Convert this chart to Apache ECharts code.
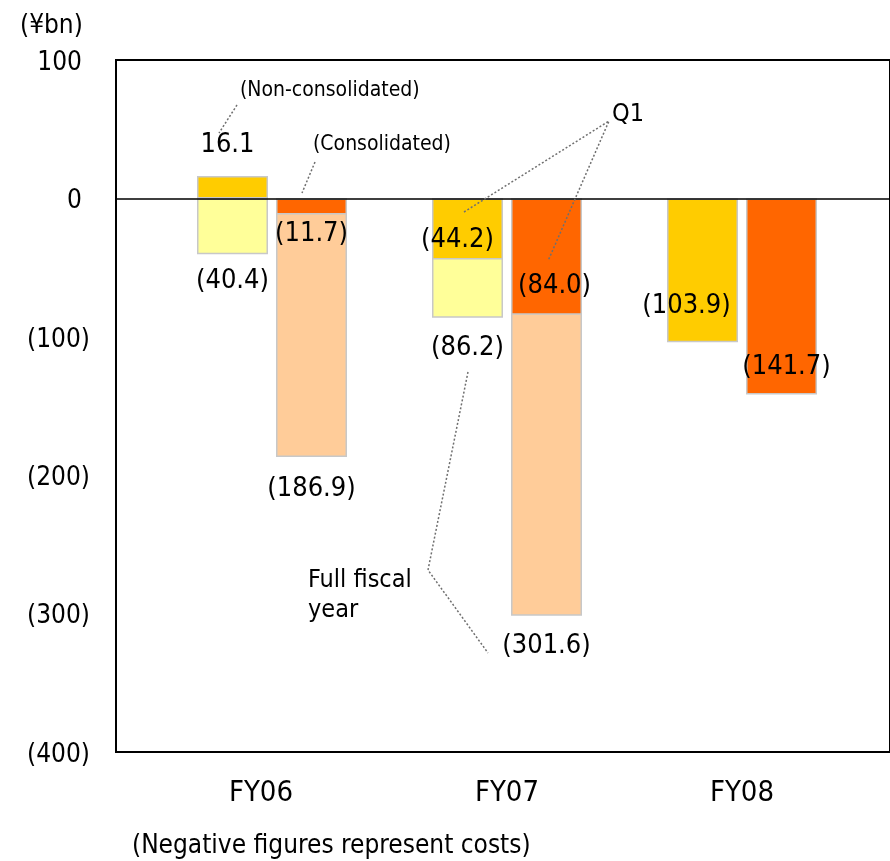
<!DOCTYPE html>
<html>
<head>
<meta charset="utf-8">
<script src="https://cdn.jsdelivr.net/npm/echarts@6/dist/echarts.min.js"></script>
<style>
  html, body { margin: 0; padding: 0; background: #fff; }
  #chart { width: 890px; height: 861px; }
</style>
</head>
<body>
<div id="chart"></div>
<script>
// Fiscal years on the category axis
const categories = ['FY06', 'FY07', 'FY08'];

// Costs in ¥bn (negative = cost); null where no full-year figure exists
const nonConsolQ1   = [16.1, -44.2, -103.9];
const nonConsolFull = [-40.4, -86.2, null];
const consolQ1      = [-11.7, -84.0, -141.7];
const consolFull    = [-186.9, -301.6, null];

// Value axis range and tick step
const yMin = -400;
const yMax = 100;
const yStep = 100;

// Label nudges [dx, dy] relative to the end of each bar
const nonConsolQ1Shift   = [[-5, -18], [-10, -33], [-16, -50]];
const nonConsolFullShift = [[0, 13], [0, 17], null];
const consolQ1Shift      = [[0, 6], [8, -42], [5, -41]];
const consolFullShift    = [[0, 18], [0, 17], null];

const FONT = '"DejaVu Sans Condensed", "DejaVu Sans", sans-serif';
const BORDER = '#c8c8c8';

function fmt(v) {
  return v < 0 ? '(' + (-v).toFixed(1) + ')' : v.toFixed(1);
}

function buildData(values, shifts) {
  return values.map(function (v, i) {
    if (v === null) return '-';
    return {
      value: v,
      label: { position: v < 0 ? 'bottom' : 'top', offset: shifts[i] || [0, 0] }
    };
  });
}

const labelStyle = {
  show: true,
  distance: 0,
  fontFamily: FONT,
  fontSize: 27,
  color: '#000',
  formatter: function (p) { return fmt(p.value); }
};

function barSeries(name, values, shifts, color, xIdx) {
  return {
    name: name,
    type: 'bar',
    xAxisIndex: xIdx,
    yAxisIndex: 1,
    barWidth: 71,
    barGap: '11.3%',
    data: buildData(values, shifts),
    itemStyle: { color: color, borderColor: BORDER, borderWidth: 1.5 },
    label: labelStyle,
    emphasis: { disabled: true },
    animation: false
  };
}

const chart = echarts.init(document.getElementById('chart'), null, { renderer: 'canvas' });

const dotted = { stroke: '#6f6f6f', lineWidth: 1.5, lineDash: [2, 2] };

chart.setOption({
  animation: false,
  backgroundColor: '#fff',
  textStyle: { fontFamily: FONT },
  title: [
    {
      text: '(¥bn)', left: 20, top: 13, padding: 0,
      textStyle: { fontFamily: FONT, fontSize: 26, fontWeight: 'normal', color: '#000' }
    },
    {
      text: '(Negative figures represent costs)', left: 132, top: 833, padding: 0,
      textStyle: { fontFamily: FONT, fontSize: 26, fontWeight: 'normal', color: '#000' }
    }
  ],
  grid: [
    // frame with the value axis
    { left: 116, right: -5, top: 60, bottom: 109, show: true, borderColor: '#000', borderWidth: 2, backgroundColor: 'transparent' },
    // plotting area for the bars
    { left: 154.5, right: 30.5, top: 60, bottom: 109 }
  ],
  xAxis: [
    {
      gridIndex: 0, type: 'category', data: [''], z: 10,
      axisLine: { show: true, onZero: true, lineStyle: { color: '#000', width: 1.5 } },
      axisTick: { show: false }, axisLabel: { show: false }, splitLine: { show: false }
    },
    {
      gridIndex: 1, type: 'category', data: categories, position: 'bottom',
      axisLine: { show: false }, axisTick: { show: false }, splitLine: { show: false },
      axisLabel: {
        margin: 27, fontFamily: FONT, fontSize: 29, color: '#000',
        formatter: function (v, i) { return i === 0 ? '{s|' + v + '}' : v; },
        rich: { s: { fontFamily: FONT, fontSize: 29, color: '#000', padding: [0, 22, 0, 0] } }
      }
    },
    {
      gridIndex: 1, type: 'category', data: categories, position: 'top', show: false
    }
  ],
  yAxis: [
    {
      gridIndex: 0, type: 'value', min: yMin, max: yMax, interval: yStep,
      axisLine: { show: false }, axisTick: { show: false }, splitLine: { show: false },
      axisLabel: {
        margin: 26, fontFamily: FONT, fontSize: 26, color: '#000',
        formatter: function (v) { return v < 0 ? '{n|(' + (-v) + ')}' : '{p|' + v + '}'; },
        rich: {
          n: { fontFamily: FONT, fontSize: 26, color: '#000', padding: [6, 0, 0, 0] },
          p: { fontFamily: FONT, fontSize: 26, color: '#000', padding: [6, 8, 0, 0] }
        }
      }
    },
    {
      gridIndex: 1, type: 'value', min: yMin, max: yMax, interval: yStep, show: false,
      splitLine: { show: false }
    }
  ],
  series: [
    barSeries('Non-consolidated full year', nonConsolFull, nonConsolFullShift, '#ffff99', 1),
    barSeries('Consolidated full year', consolFull, consolFullShift, '#ffcc99', 1),
    barSeries('Non-consolidated Q1', nonConsolQ1, nonConsolQ1Shift, '#ffcc00', 2),
    barSeries('Consolidated Q1', consolQ1, consolQ1Shift, '#ff6600', 2)
  ],
  graphic: [
    { type: 'text', z: 100, x: 240, y: 91, style: { text: '(Non-consolidated)', fontFamily: FONT, fontSize: 21, fill: '#000', align: 'left', verticalAlign: 'middle' } },
    { type: 'line', z: 100, shape: { x1: 237, y1: 105, x2: 219, y2: 133 }, style: dotted },
    { type: 'text', z: 100, x: 313, y: 145, style: { text: '(Consolidated)', fontFamily: FONT, fontSize: 21, fill: '#000', align: 'left', verticalAlign: 'middle' } },
    { type: 'line', z: 100, shape: { x1: 315, y1: 162, x2: 302, y2: 193 }, style: dotted },
    { type: 'text', z: 100, x: 612, y: 114, style: { text: 'Q1', fontFamily: FONT, fontSize: 25, fill: '#000', align: 'left', verticalAlign: 'middle' } },
    { type: 'polyline', z: 100, shape: { points: [[464, 212], [609, 121], [548, 261]] }, style: Object.assign({ fill: null }, dotted) },
    { type: 'text', z: 100, x: 308, y: 565, style: { text: 'Full fiscal\nyear', fontFamily: FONT, fontSize: 25, lineHeight: 30, fill: '#000', align: 'left', verticalAlign: 'top' } },
    { type: 'polyline', z: 100, shape: { points: [[468, 372], [428, 570], [488, 653]] }, style: Object.assign({ fill: null }, dotted) }
  ]
});
</script>
</body>
</html>
